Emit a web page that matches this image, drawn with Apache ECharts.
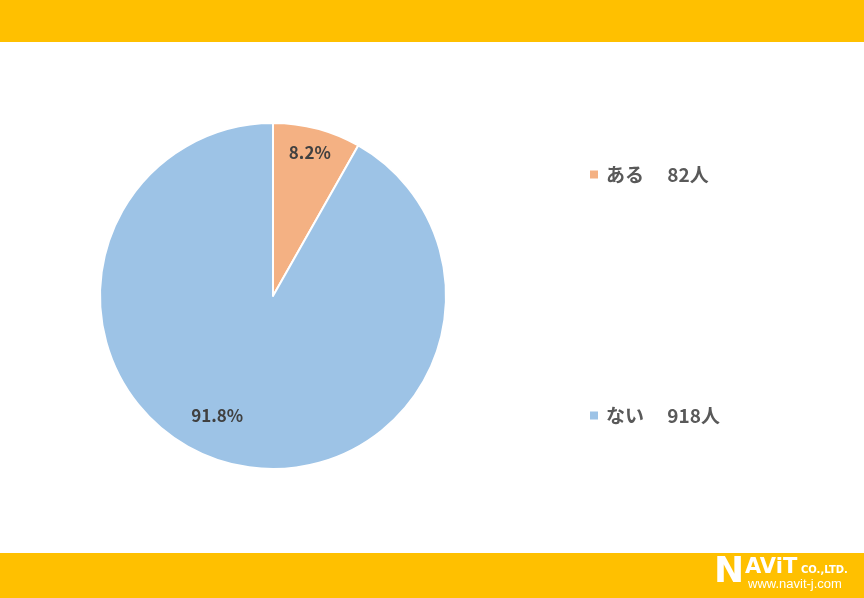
<!DOCTYPE html>
<html>
<head>
<meta charset="utf-8">
<script src="https://cdn.jsdelivr.net/npm/echarts@6/dist/echarts.min.js"></script>
<style>
html,body{margin:0;padding:0;background:#fff;}
#c{width:864px;height:598px;}
</style>
</head>
<body>
<div id="c"></div>
<script>
var categories = ['ある', 'ない'];
var counts = [82, 918];
var colors = ['#F4B183', '#9DC3E6'];

var total = counts.reduce(function(a, b){ return a + b; }, 0);
var chart = echarts.init(document.getElementById('c'), null, {renderer: 'canvas'});
var FONT = '"Noto Sans CJK JP", "Noto Sans", sans-serif';

var option = {
  animation: false,
  backgroundColor: '#ffffff',
  color: colors,
  legend: {
    orient: 'vertical',
    left: 583,
    top: 160,
    itemWidth: 10,
    itemHeight: 10,
    itemGap: 222,
    icon: 'rect',
    data: categories,
    formatter: function(name){
      var i = categories.indexOf(name);
      return name + '　 ' + counts[i] + '人';
    },
    textStyle: {
      fontFamily: FONT,
      fontSize: 19,
      fontWeight: 'bold',
      color: '#595959',
      padding: [0, 0, 0, 2]
    }
  },
  graphic: [
    {type: 'rect', left: 0, top: 0, shape: {width: 864, height: 42}, style: {fill: '#FFC000'}, silent: true},
    {type: 'rect', left: 0, top: 553, shape: {width: 864, height: 45}, style: {fill: '#FFC000'}, silent: true},
    {type: 'text', left: 714, top: 555, style: {text: 'N', fill: '#ffffff', font: 'bold 36px "DejaVu Sans", sans-serif'}},
    {type: 'text', left: 745, top: 557, style: {text: 'AViT', fill: '#ffffff', font: 'bold 21px "DejaVu Sans", sans-serif'}},
    {type: 'text', left: 801, top: 565, style: {text: 'CO.,LTD.', fill: '#ffffff', font: 'bold 10px "DejaVu Sans", sans-serif'}},
    {type: 'text', left: 748, top: 578, style: {text: 'www.navit-j.com', fill: '#ffffff', font: '13px "Liberation Sans", sans-serif'}}
  ],
  series: [{
    type: 'pie',
    center: [273, 296],
    radius: [0, 173],
    startAngle: 90,
    clockwise: true,
    data: categories.map(function(n, i){
      return {name: n, value: counts[i], itemStyle: {color: colors[i]}};
    }),
    itemStyle: {borderColor: '#ffffff', borderWidth: 2},
    label: {
      show: true,
      position: 'inside',
      formatter: function(p){ return (p.value / total * 100).toFixed(1) + '%'; },
      fontFamily: FONT,
      fontSize: 17,
      fontWeight: 'bold',
      color: '#404040'
    },
    labelLine: {show: false},
    emphasis: {disabled: true},
    labelLayout: function(params){
      if (params.dataIndex === 0) return {dx: 14, dy: -57};
      return {dx: -33, dy: 33};
    }
  }]
};
chart.setOption(option);
</script>
</body>
</html>
